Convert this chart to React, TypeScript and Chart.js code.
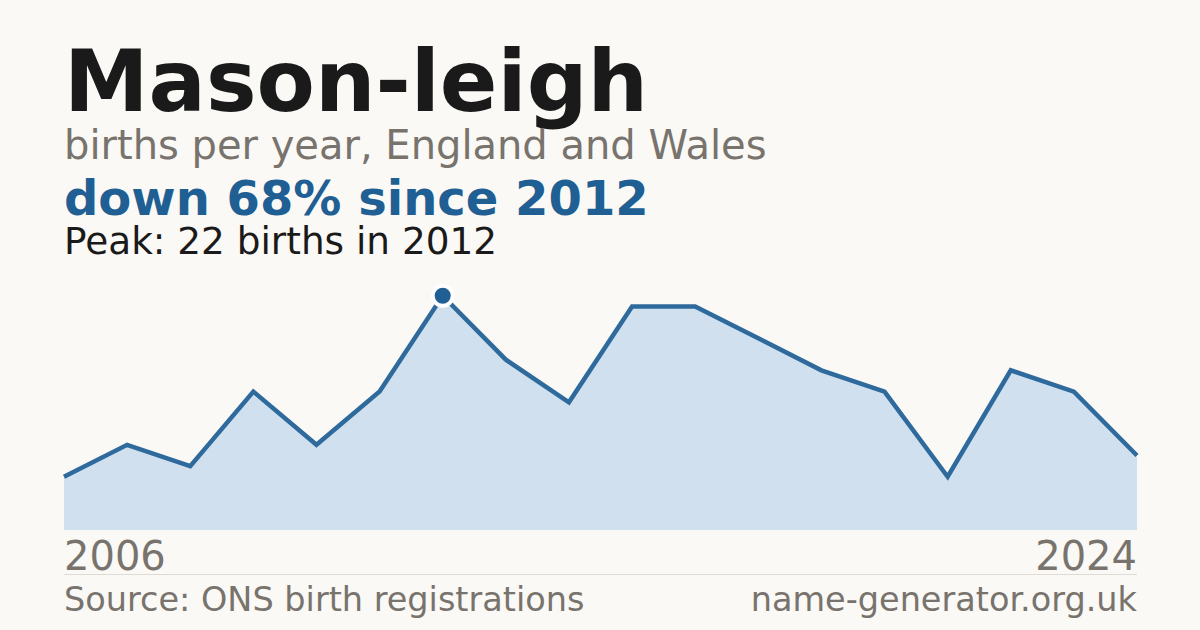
// App.tsx
import { useEffect, useRef } from "react";
import { Chart, registerables } from "chart.js";
import type { ChartConfiguration } from "chart.js";

Chart.register(...registerables);

const YEARS = [
  "2006", "2007", "2008", "2009", "2010", "2011", "2012", "2013", "2014",
  "2015", "2016", "2017", "2018", "2019", "2020", "2021", "2022", "2023",
];
const BIRTHS = [5, 8, 6, 13, 8, 13, 22, 16, 12, 21, 21, 18, 15, 13, 5, 15, 13, 7];
const AXIS_LABELS = ["2006", "2024"];

const FONT = '"DejaVu Sans", sans-serif';
const BG = "#faf9f5";
const GREY = "#78736d";
const BLUE = "#1f5f94";

export default function App() {
  const canvasRef = useRef<HTMLCanvasElement | null>(null);
  const chartRef = useRef<Chart | null>(null);

  useEffect(() => {
    const ctx = canvasRef.current!.getContext("2d")!;
    const peakIdx = BIRTHS.indexOf(Math.max(...BIRTHS));

    const config: ChartConfiguration<"line", number[], string> = {
      type: "line",
      data: {
        labels: YEARS,
        datasets: [
          {
            data: BIRTHS,
            borderColor: "#2f6a9d",
            borderWidth: 4.5,
            backgroundColor: "#d0e0ee",
            fill: "origin",
            tension: 0,
            pointRadius: BIRTHS.map((_, i) => (i === peakIdx ? 10 : 0)),
            pointBackgroundColor: BLUE,
            pointBorderColor: "#ffffff",
            pointBorderWidth: 4,
            pointHoverRadius: 0,
            clip: false as any,
          },
        ],
      },
      options: {
        responsive: false,
        maintainAspectRatio: false,
        animation: false,
        layout: { padding: { top: 20, right: 20, bottom: 0, left: 20 } },
        plugins: { legend: { display: false }, tooltip: { enabled: false } },
        scales: {
          x: { display: false, offset: false },
          y: { display: false, min: 0, max: 23.2 },
        },
      },
    };

    const chart = new Chart(ctx, config);
    chartRef.current = chart;
    return () => chartRef.current?.destroy();
  }, []);

  const text = (top: number, size: number, color: string, bold = false): React.CSSProperties => ({
    position: "absolute",
    top,
    left: 64,
    fontSize: size,
    lineHeight: 1,
    fontWeight: bold ? 700 : 400,
    color,
    whiteSpace: "nowrap",
    margin: 0,
  });

  return (
    <div
      style={{
        position: "fixed",
        left: 0,
        top: 0,
        width: 1200,
        height: 630,
        background: BG,
        fontFamily: FONT,
        overflow: "hidden",
      }}
    >
      <div style={text(39, 85, "#1a1a1a", true)}>Mason-leigh</div>
      <div style={text(125, 40, GREY)}>births per year, England and Wales</div>
      <div style={text(174, 48, BLUE, true)}>down 68% since 2012</div>
      <div style={text(223, 37.4, "#1a1a1a")}>Peak: 22 births in 2012</div>

      <canvas
        ref={canvasRef}
        width={1113}
        height={267}
        style={{ position: "absolute", left: 44, top: 263, width: 1113, height: 267 }}
      />

      <div style={text(536, 40, GREY)}>{AXIS_LABELS[0]}</div>
      <div style={{ ...text(536, 40, GREY), left: undefined, right: 63 }}>{AXIS_LABELS[1]}</div>
      <div
        style={{
          position: "absolute",
          left: 64,
          top: 574,
          width: 1073,
          height: 1,
          background: "#dedbd5",
        }}
      />
      <div style={text(583, 33.5, GREY)}>Source: ONS birth registrations</div>
      <div style={{ ...text(583, 33.5, GREY), left: undefined, right: 63 }}>name-generator.org.uk</div>
    </div>
  );
}
